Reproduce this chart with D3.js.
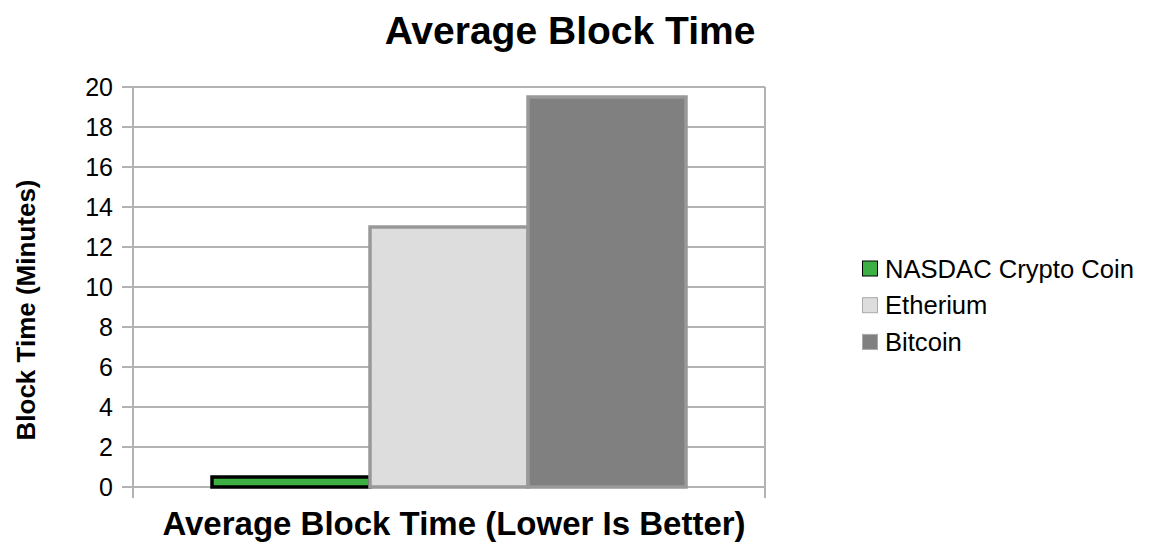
<!DOCTYPE html>
<html><head><meta charset="utf-8">
<script src="https://cdn.jsdelivr.net/npm/d3@7"></script>
<style>body{margin:0;background:#fff;}svg{display:block;font-family:"Liberation Sans",Arial,sans-serif;}</style>
</head><body>
<svg id="c" width="1154" height="544"></svg>
<script>
const seriesNames = ["NASDAC Crypto Coin", "Etherium", "Bitcoin"];
const seriesValues = [0.5, 13, 19.5];
const seriesFill = ["#3cb043", "#dddddd", "#808080"];
const seriesStroke = ["#000000", "#999999", "#999999"];
const yTicks = [0,2,4,6,8,10,12,14,16,18,20];
const category = "Average Block Time (Lower Is Better)";

const svg = d3.select("#c");
const L = 133, R = 765, T = 87, B = 487;
const y = d3.scaleLinear().domain([0,20]).range([B,T]);
const x0 = d3.scaleBand().domain([category]).range([L,R]).paddingInner(0).paddingOuter(0);
const gw = x0.bandwidth();
const x1 = d3.scaleBand().domain(seriesNames).range([L + gw*0.125, R - gw*0.125]).padding(0);

// gridlines
svg.append("g").selectAll("line").data(yTicks).join("line")
  .attr("x1", L-11).attr("x2", R).attr("y1", d=>y(d)).attr("y2", d=>y(d))
  .attr("stroke", "#b3b3b3").attr("stroke-width", 2);
svg.append("line").attr("x1",L).attr("x2",L).attr("y1",T).attr("y2",B+11).attr("stroke","#b3b3b3").attr("stroke-width",2);
svg.append("line").attr("x1",R).attr("x2",R).attr("y1",T).attr("y2",B+11).attr("stroke","#b3b3b3").attr("stroke-width",2);

// tick labels
svg.append("g").selectAll("text").data(yTicks).join("text")
  .attr("x", L-20).attr("y", d=>y(d)).attr("dy","0.36em").attr("text-anchor","end")
  .attr("font-size", 25).attr("fill","#000").text(d=>d);

// bars
svg.append("g").selectAll("rect").data(seriesNames).join("rect")
  .attr("x", d=>x1(d)).attr("width", x1.bandwidth())
  .attr("y", (d,i)=>y(seriesValues[i])).attr("height", (d,i)=>y(0)-y(seriesValues[i]))
  .attr("fill", (d,i)=>seriesFill[i]).attr("stroke", (d,i)=>seriesStroke[i]).attr("stroke-width", 3.5);

// title
svg.append("text").attr("x", 570).attr("y", 44).attr("text-anchor","middle")
  .attr("font-size", 39).attr("font-weight","bold").text("Average Block Time");
// x axis title
svg.append("text").attr("x", (L+R)/2 + 5).attr("y", 535).attr("text-anchor","middle")
  .attr("font-size", 33).attr("font-weight","bold").text(category);
// y axis title
svg.append("text").attr("transform","translate(35,310) rotate(-90)").attr("text-anchor","middle")
  .attr("font-size", 26).attr("font-weight","bold").text("Block Time (Minutes)");

// legend
const lg = svg.append("g").selectAll("g").data(seriesNames).join("g")
  .attr("transform", (d,i)=>`translate(862,${268.5 + i*36.7})`);
lg.append("rect").attr("x",0.5).attr("y",-7.5).attr("width",15).attr("height",15)
  .attr("fill",(d,i)=>seriesFill[i]).attr("stroke",(d,i)=>i===0?"#000":"#aaa").attr("stroke-width",1);
lg.append("text").attr("x",23).attr("y",0).attr("dy","0.36em").attr("font-size",25.6).text(d=>d);
</script>
</body></html>
